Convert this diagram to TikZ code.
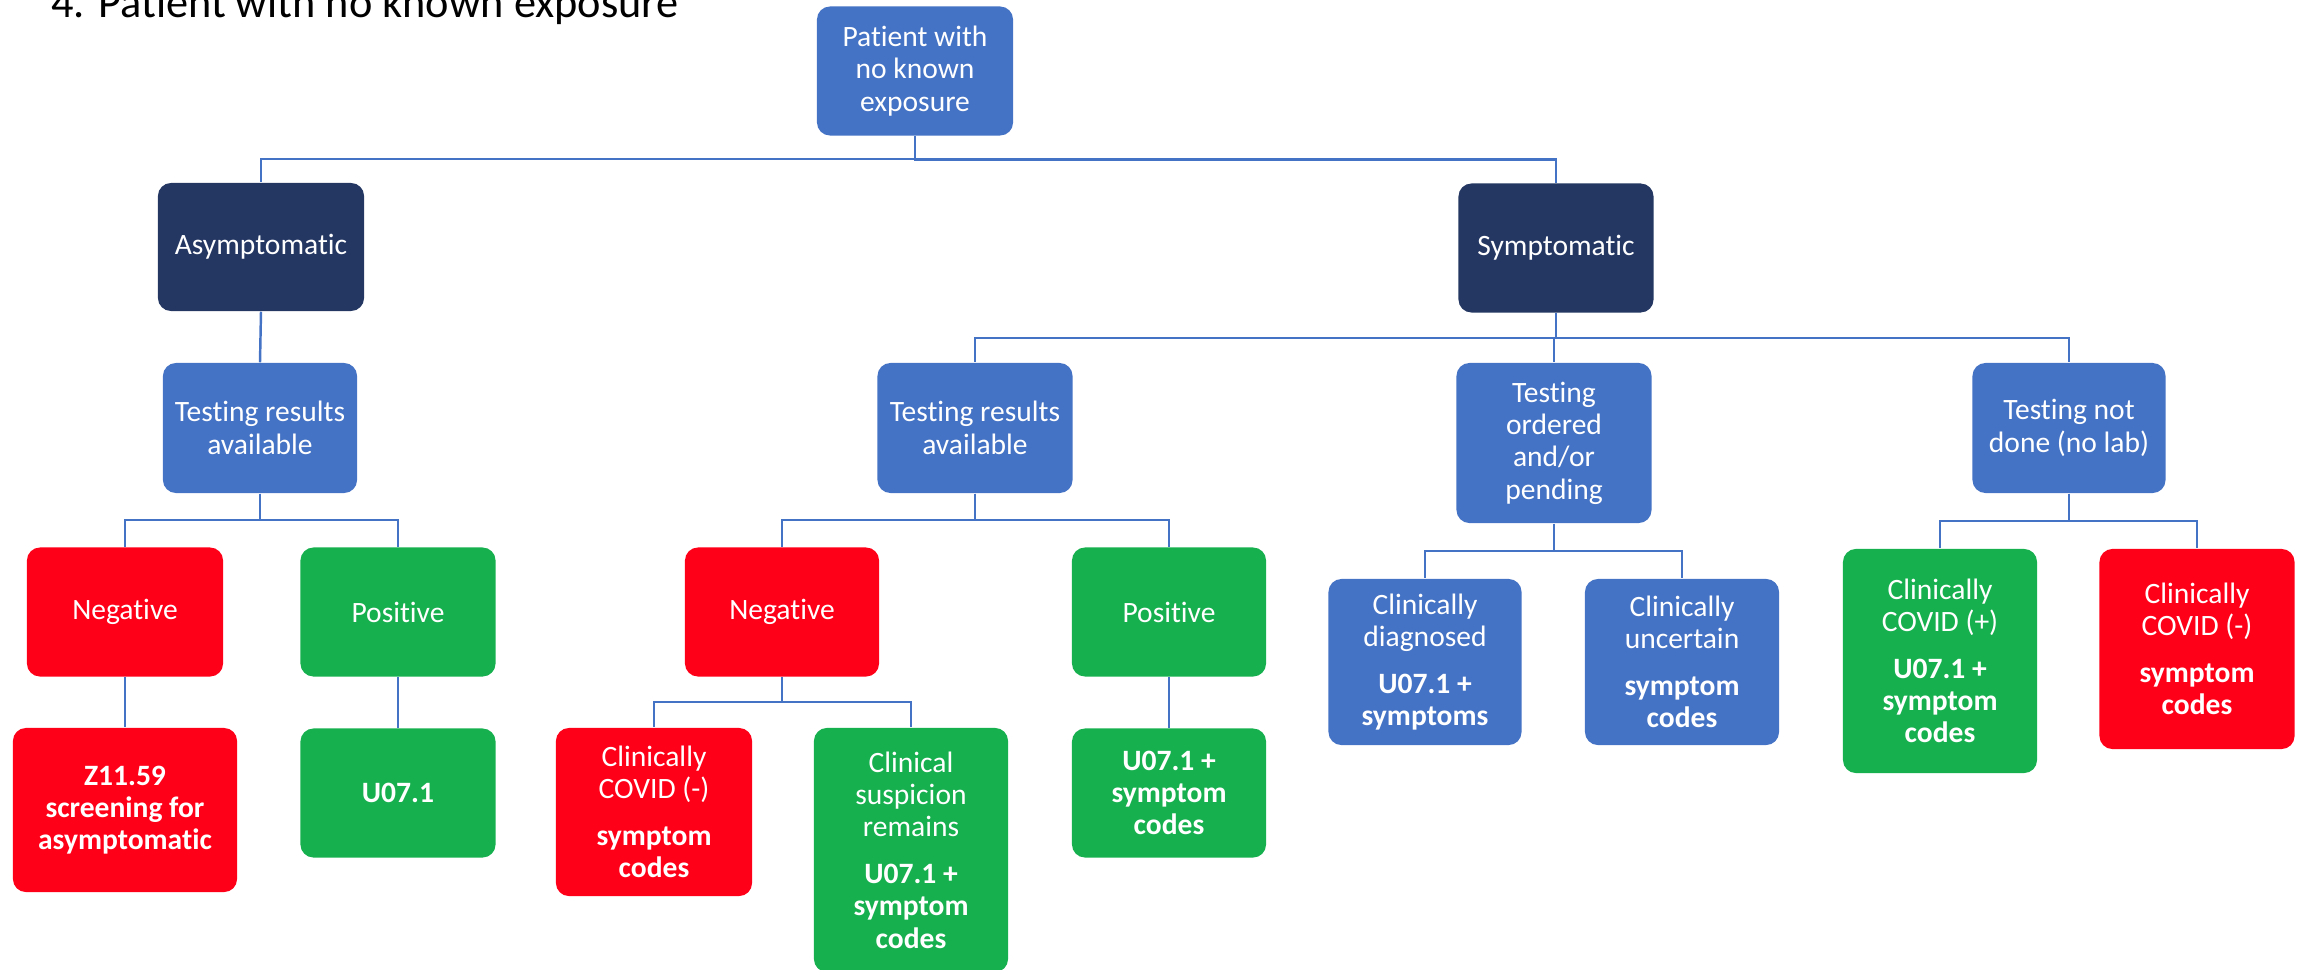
\documentclass[tikz,border=0pt]{standalone}
\usepackage{fontspec}
\setmainfont{Carlito}[Ligatures=NoCommon]
\usepackage{tikz}
\usetikzlibrary{calc,positioning}

\definecolor{boxblue}{HTML}{4472C4}
\definecolor{boxnavy}{HTML}{243763}
\definecolor{boxred}{HTML}{FF0019}
\definecolor{boxgreen}{HTML}{17B04F}
\definecolor{linkblue}{HTML}{4472C4}

\tikzset{
    box/.style={rectangle,rounded corners=0.13cm,inner sep=0pt,align=center,
        text=white,font=\fontsize{8.4}{9.2}\selectfont},
    bluebox/.style={box,fill=boxblue},
    navybox/.style={box,fill=boxnavy},
    redbox/.style={box,fill=boxred},
    greenbox/.style={box,fill=boxgreen},
    link/.style={draw=linkblue,line width=0.7pt},
    elbow/.style={to path={-- ($(\tikztostart)!.5!(\tikztostart |- \tikztotarget)$) -| (\tikztotarget)}}
}

\begin{document}
\begin{tikzpicture}[x=0.01cm,y=-0.01cm]
        \useasboundingbox (0,0) rectangle (2297,970);
        \node[anchor=base west,font=\fontsize{12.6}{14}\selectfont] (title) at (39,18) {4. Patient with no known exposure};

        \node[bluebox,minimum width=1.96cm,minimum height=1.29cm] (pat) at (915,71) {Patient with\\no known\\exposure};

        \node[navybox,minimum width=2.06cm,minimum height=1.28cm] (asym) at (261,247) {Asymptomatic};
        \node[navybox,minimum width=1.95cm,minimum height=1.29cm] (sym) at (1556,248) {Symptomatic};

        \node[bluebox,minimum width=1.94cm,minimum height=1.30cm] (atest) at (260,428) {Testing results\\available};
        \node[bluebox,minimum width=1.95cm,minimum height=1.30cm] (stest) at (975,428) {Testing results\\available};
        \node[bluebox,minimum width=1.95cm,minimum height=1.60cm] (sorder) at (1554,443) {Testing\\ordered\\and/or\\pending};
        \node[bluebox,minimum width=1.93cm,minimum height=1.30cm] (snolab) at (2069,428) {Testing not\\done (no lab)};

        \node[redbox,minimum width=1.96cm,minimum height=1.29cm] (aneg) at (125,612) {Negative};
        \node[greenbox,minimum width=1.95cm,minimum height=1.29cm] (apos) at (398,612) {Positive};
        \node[redbox,minimum width=1.94cm,minimum height=1.29cm] (sneg) at (782,612) {Negative};
        \node[greenbox,minimum width=1.94cm,minimum height=1.29cm] (spos) at (1169,612) {Positive};

        \node[redbox,minimum width=2.24cm,minimum height=1.64cm] (azcode) at (125,810) {\textbf{Z11.59}\\\textbf{screening for}\\\textbf{asymptomatic}};
        \node[greenbox,minimum width=1.95cm,minimum height=1.29cm] (aucode) at (398,793) {\textbf{U07.1}};

        \node[redbox,minimum width=1.96cm,minimum height=1.68cm] (snegcov) at (654,812) {Clinically\\COVID (-)\\[4pt]\textbf{symptom}\\\textbf{codes}};
        \node[greenbox,minimum width=1.94cm,minimum height=2.44cm] (ssusp) at (911,850) {Clinical\\suspicion\\remains\\[4pt]\textbf{U07.1 +}\\\textbf{symptom}\\\textbf{codes}};
        \node[greenbox,minimum width=1.94cm,minimum height=1.29cm] (sucode) at (1169,793) {\textbf{U07.1 +}\\\textbf{symptom}\\\textbf{codes}};

        \node[bluebox,minimum width=1.93cm,minimum height=1.66cm] (sdiag) at (1425,662) {Clinically\\diagnosed\\[4pt]\textbf{U07.1 +}\\\textbf{symptoms}};
        \node[bluebox,minimum width=1.94cm,minimum height=1.66cm] (sunc) at (1682,662) {Clinically\\uncertain\\[4pt]\textbf{symptom}\\\textbf{codes}};

        \node[greenbox,minimum width=1.94cm,minimum height=2.24cm] (nlpos) at (1940,661) {Clinically\\COVID (+)\\[4pt]\textbf{U07.1 +}\\\textbf{symptom}\\\textbf{codes}};
        \node[redbox,minimum width=1.95cm,minimum height=2.00cm] (nlneg) at (2197,649) {Clinically\\COVID (-)\\[4pt]\textbf{symptom}\\\textbf{codes}};

        \draw[link] (pat.south) to[elbow] (asym.north);
        \draw[link] (pat.south) to[elbow] (sym.north);
        \draw[link] (asym.south) -- (atest.north);
        \draw[link] (sym.south) to[elbow] (stest.north);
        \draw[link] (sym.south) to[elbow] (sorder.north);
        \draw[link] (sym.south) to[elbow] (snolab.north);
        \draw[link] (atest.south) to[elbow] (aneg.north);
        \draw[link] (atest.south) to[elbow] (apos.north);
        \draw[link] (aneg.south) -- (aneg.south |- azcode.north);
        \draw[link] (apos.south) -- (aucode.north);
        \draw[link] (stest.south) to[elbow] (sneg.north);
        \draw[link] (stest.south) to[elbow] (spos.north);
        \draw[link] (sneg.south) to[elbow] (snegcov.north);
        \draw[link] (sneg.south) to[elbow] (ssusp.north);
        \draw[link] (spos.south) -- (sucode.north);
        \draw[link] (sorder.south) to[elbow] (sdiag.north);
        \draw[link] (sorder.south) to[elbow] (sunc.north);
        \draw[link] (snolab.south) to[elbow] (nlpos.north);
        \draw[link] (snolab.south) to[elbow] (nlneg.north);
    \end{tikzpicture}
\end{document}
